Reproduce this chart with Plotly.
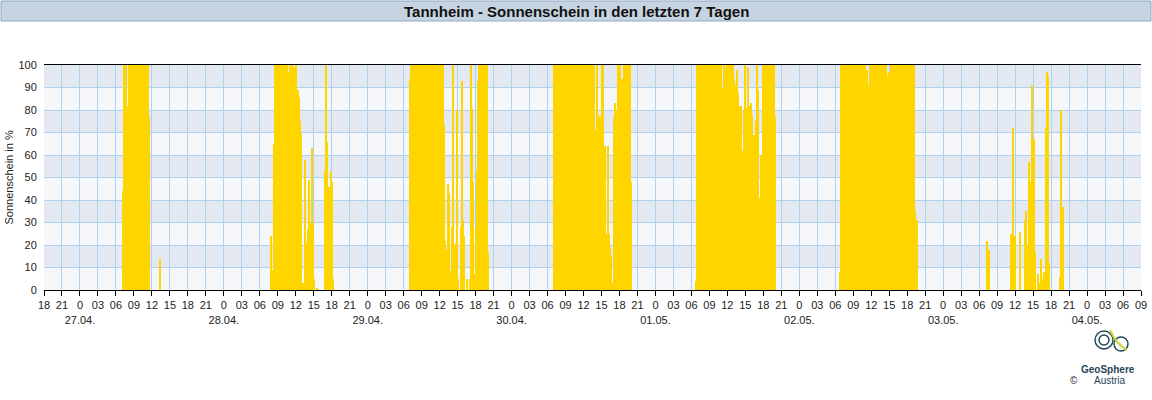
import pandas as pd
import plotly.graph_objects as go

# ---- data: 10-minute sunshine share (%), per day ----
start_27 = "2025-04-27 07:10"
sun_27 = [44, 100, 100, 100, 82, 24, 100, 100, 100, 100, 100, 100, 62,
          100, 100, 100, 100, 100, 100, 100, 100, 100, 100, 100, 100, 100, 77,
          0, 0, 0, 0, 0, 0, 0, 0, 0, 0, 14]

start_28 = "2025-04-28 07:50"
sun_28 = [24, 0, 9, 65,
          100, 100, 100, 100, 100, 100, 100, 100, 100, 100, 100, 100, 100,
          97, 95, 100, 99, 100, 86, 99, 76, 100, 37, 89, 86, 75, 70, 3, 3, 3,
          58, 21, 13, 27, 49, 30, 0, 63, 30, 5, 0, 0, 1,
          0, 0, 0, 0, 0, 0, 0,
          53, 100, 66, 37, 46, 21, 53, 48, 5]

start_29 = "2025-04-29 07:00"
sun_29 = [94,
          100, 100, 100, 100, 100, 100, 100, 100, 100, 100, 100,
          100, 100, 100, 100, 100, 100, 100, 100, 100, 100, 100,
          100, 100, 100, 100, 100, 100, 100, 100, 100, 100, 100,
          74, 22, 18, 0, 47, 43, 9, 2, 28, 100, 0, 20, 21, 80, 5, 0, 0,
          28, 93, 31, 24, 0, 0, 5, 0, 0, 5, 100, 81, 48, 7, 7, 28, 53, 93,
          100, 100, 100, 100, 100, 100, 100, 100, 100, 17]

start_30 = "2025-04-30 07:00"
sun_30 = [100, 100, 100, 100, 100, 100, 100, 100, 100, 100,
          100, 100, 100, 100, 100, 100, 100, 100, 100, 100,
          100, 100, 100, 100, 100, 100, 100, 100, 100, 100,
          100, 100, 100, 100, 100, 98, 100, 100, 100, 100, 100,
          71, 55, 100, 78, 49, 77, 71, 100, 100, 51, 64, 25, 25, 64, 25,
          19, 15, 3, 0, 77, 83, 80, 45, 100, 100, 100, 85, 94, 67,
          100, 100, 100, 100, 100, 100, 100, 48]

start_01 = "2025-05-01 06:40"
sun_01 = [4,
          100, 100, 100, 100, 100, 100, 100, 100, 100, 100,
          100, 100, 100, 100, 100, 100, 100, 100, 100, 100,
          100, 100, 100, 100, 100,
          90, 79, 100, 99, 96, 100, 96, 100, 100, 100, 82, 100, 94, 81, 91,
          98, 88, 82, 79, 82, 62, 30, 80, 100, 45, 81, 99, 82, 34, 83, 78,
          69, 69, 7, 75, 100, 89, 13, 41, 60, 60,
          100, 100, 100, 100, 100, 100, 74, 100, 100, 100, 100, 100, 77]

start_02 = "2025-05-02 06:40"
sun_02 = [8,
          100, 100, 100, 100, 100, 100, 100, 100, 100, 100,
          100, 100, 100, 100, 100, 100, 100, 100, 100, 100,
          100, 100, 100, 100, 100,
          98, 98, 91, 64,
          100, 100, 100, 100, 100, 100, 100, 100, 100, 100,
          100, 100, 100, 100, 100,
          72, 100, 71, 95, 97, 86,
          100, 100, 100, 100, 100, 100, 100, 100, 100, 100, 100, 100,
          100, 100, 100, 100, 100, 100, 100, 100, 100, 100, 100, 100,
          35, 0, 31]

start_03 = "2025-05-03 07:10"
sun_03 = [22, 0, 18,
          0, 0, 0, 0, 0, 0, 0, 0, 0, 0, 0, 0, 0, 0, 0, 0, 0, 0, 0, 0, 0,
          25, 9, 72, 17, 24, 0, 0, 0, 0, 26, 0, 0, 0, 0,
          31, 35, 20, 11, 57, 48, 30, 91, 64, 67, 17, 0, 0, 7, 3, 0, 14, 5,
          1, 8, 0, 72, 97, 95, 12,
          0, 0, 0, 0, 0, 0, 0, 0, 0, 0,
          6, 80, 0, 37]

day_series = [(start_27, sun_27), (start_28, sun_28), (start_29, sun_29),
              (start_30, sun_30), (start_01, sun_01), (start_02, sun_02),
              (start_03, sun_03)]

x_start = "2025-04-26 18:00"
x_end = "2025-05-04 09:00"

title_text = "Tannheim - Sonnenschein in den letzten 7 Tagen"
y_title = "Sonnenschein in %"

# ---- build bar positions ----
xs, ys = [], []
step = pd.Timedelta(minutes=10)
for st, vals in day_series:
    t0 = pd.Timestamp(st)
    for i, v in enumerate(vals):
        xs.append(t0 + i * step + step / 2)
        ys.append(v)

# ---- ticks every 3 hours ----
tick_times = pd.date_range(x_start, x_end, freq="3h")
tickvals, ticktext = [], []
for t in tick_times:
    if t.hour == 0:
        lab = "0<br>" + t.strftime("%d.%m.")
    else:
        lab = f"{t.hour:02d}"
    tickvals.append(t)
    ticktext.append(lab)

fig = go.Figure()
fig.add_trace(go.Bar(
    x=xs, y=ys, width=600000,
    marker=dict(color="#ffd500", line=dict(width=0)),
    hoverinfo="x+y",
))

L, R, T, B = 44, 11, 65, 110
W, H = 1152, 400
pw = W - L - R
ph = H - T - B

def px_x(p):
    return (p - L) / pw

def px_y(p):
    return (H - B - p) / ph

shapes = []
# alternating background bands
for lo in range(0, 100, 10):
    col = "#e4e9f1" if (lo // 10) % 2 == 1 else "#f5f7fa"
    shapes.append(dict(type="rect", xref="paper", yref="y", x0=0, x1=1, y0=lo, y1=lo + 10,
                       fillcolor=col, line=dict(width=0), layer="below"))
# title bar
shapes.append(dict(type="rect", xref="paper", yref="paper",
                   x0=px_x(1), x1=px_x(1151), y0=px_y(21), y1=px_y(1),
                   fillcolor="#c6d3e0", line=dict(color="#8faac6", width=1), layer="above"))

# simple logo strokes
logo_col = "#1f4656"
for (cx, cy, r) in [(1104, 340, 9), (1104, 340, 5), (1121, 344, 7)]:
    shapes.append(dict(type="circle", xref="paper", yref="paper",
                       x0=px_x(cx - r), x1=px_x(cx + r), y0=px_y(cy + r), y1=px_y(cy - r),
                       line=dict(color=logo_col, width=1.4), fillcolor="rgba(0,0,0,0)"))
shapes.append(dict(type="path", xref="paper", yref="paper",
                   path=f"M {px_x(1110)} {px_y(330)} Q {px_x(1116)} {px_y(344)} {px_x(1127)} {px_y(350)}",
                   line=dict(color="#c8d43a", width=2)))

annotations = [
    dict(text="<b>" + title_text + "</b>", xref="paper", yref="paper",
         x=px_x(576), y=px_y(11), xanchor="center", yanchor="middle", showarrow=False,
         font=dict(family="Liberation Sans", size=15, color="#111")),
    dict(text=y_title, xref="paper", yref="paper", x=px_x(8), y=0.5, textangle=-90,
         xanchor="center", yanchor="middle", showarrow=False,
         font=dict(family="Liberation Sans", size=11, color="#222")),
    dict(text="<b>GeoSphere</b>", xref="paper", yref="paper", x=px_x(1108), y=px_y(369),
         xanchor="center", yanchor="middle", showarrow=False,
         font=dict(family="Liberation Sans", size=10, color=logo_col)),
    dict(text="Austria", xref="paper", yref="paper", x=px_x(1110), y=px_y(380),
         xanchor="center", yanchor="middle", showarrow=False,
         font=dict(family="Liberation Sans", size=10, color=logo_col)),
    dict(text="©", xref="paper", yref="paper", x=px_x(1074), y=px_y(380),
         xanchor="center", yanchor="middle", showarrow=False,
         font=dict(family="Liberation Sans", size=10, color="#222")),
]

fig.update_layout(
    width=W, height=H,
    margin=dict(l=L, r=R, t=T, b=B, pad=0, autoexpand=False),
    paper_bgcolor="white", plot_bgcolor="#f5f7fa",
    bargap=0, showlegend=False,
    shapes=shapes, annotations=annotations,
    font=dict(family="Liberation Sans", size=11, color="#222"),
    xaxis=dict(type="date", range=[x_start, x_end], tickmode="array",
               tickvals=tickvals, ticktext=ticktext, tickangle=0, automargin=False,
               showgrid=True, gridcolor="#acd2ef", gridwidth=1,
               ticks="outside", ticklen=5, tickcolor="#000",
               showline=True, linecolor="#000", linewidth=1, mirror=True,
               zeroline=False, tickfont=dict(size=11, color="#222")),
    yaxis=dict(range=[0, 100], dtick=10, tick0=0, automargin=False,
               showgrid=True, gridcolor="#acd2ef", gridwidth=1,
               ticks="outside", ticklen=4, tickcolor="rgba(0,0,0,0)",
               showline=False, zeroline=False,
               tickfont=dict(size=11, color="#222")),
)

fig.write_html("out.html", config={"displayModeBar": False},
               post_script="document.body.style.margin='0';document.body.style.overflow='hidden';")
